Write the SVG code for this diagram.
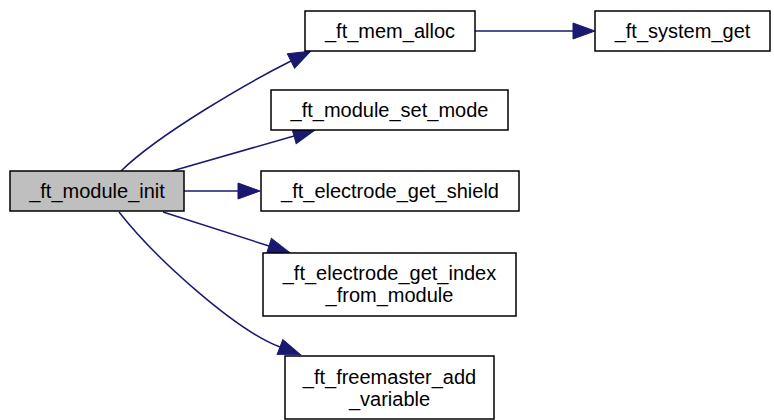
<svg xmlns="http://www.w3.org/2000/svg" width="774" height="420" viewBox="0 0 774 420">
<style>
.node rect{fill:#ffffff;stroke:#000000;stroke-width:1.5}
#n_module_init rect{fill:#bfbfbf}
.node text{font-family:"Liberation Sans",Arial,sans-serif;font-size:20px;fill:#000000;text-anchor:middle}
.edge{fill:none;stroke:#191970;stroke-width:1.5;marker-end:url(#arrow)}
</style>
<defs>
<marker id="arrow" markerUnits="userSpaceOnUse" markerWidth="24" markerHeight="18" refX="0" refY="8" orient="auto" overflow="visible">
<path d="M0,0 L22,8 L0,16 z" fill="#191970" stroke="#191970" stroke-width="1"/>
</marker>
</defs>
<rect width="774" height="420" fill="#ffffff"/>
<g id="connectors">
<path class="edge" d="M121,171 C160,133 251,81 291,61"/>
<path class="edge" d="M172,171 L294,136"/>
<path class="edge" d="M184,191 L238,191"/>
<path class="edge" d="M163,212 L269,246"/>
<path class="edge" d="M119,212 C155,258 235,330 280,347"/>
<path class="edge" d="M475,31 L573,31"/>
</g>
<g id="n_module_init" class="node"><rect x="10" y="171" width="174" height="40"/><text x="97" y="198">_ft_module_init</text></g>
<g id="n_mem_alloc" class="node"><rect x="305" y="11" width="170" height="40"/><text x="390" y="38">_ft_mem_alloc</text></g>
<g id="n_system_get" class="node"><rect x="595" y="11" width="175" height="40"/><text x="682.5" y="38">_ft_system_get</text></g>
<g id="n_set_mode" class="node"><rect x="271" y="90" width="237" height="40"/><text x="389.5" y="117">_ft_module_set_mode</text></g>
<g id="n_get_shield" class="node"><rect x="261" y="171" width="258" height="40"/><text x="390" y="198">_ft_electrode_get_shield</text></g>
<g id="n_get_index" class="node"><rect x="263" y="253" width="253" height="63"/><text x="389.5" y="280">_ft_electrode_get_index</text><text x="389.5" y="302">_from_module</text></g>
<g id="n_freemaster" class="node"><rect x="285" y="356" width="209" height="63"/><text x="389.5" y="384">_ft_freemaster_add</text><text x="389.5" y="406">_variable</text></g>
</svg>
